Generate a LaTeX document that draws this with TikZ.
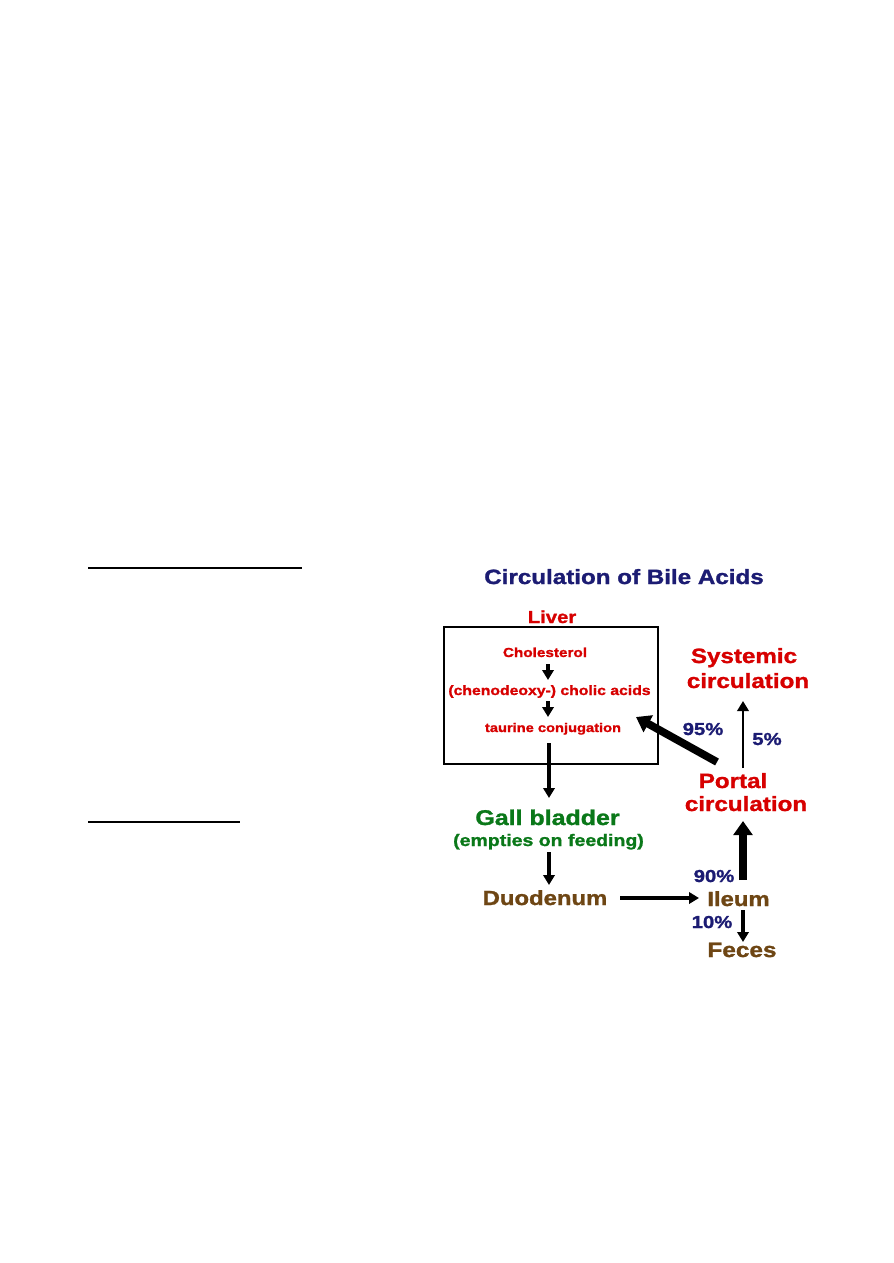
\documentclass[tikz,border=0pt]{standalone}
\usepackage{fontspec}
\setmainfont{Liberation Sans}[FakeStretch=1.17,BoldFeatures={FakeBold=1.3}]
\usetikzlibrary{arrows.meta}
\definecolor{navyc}{RGB}{28,28,115}
\definecolor{redc}{RGB}{215,0,0}
\definecolor{greenc}{RGB}{10,120,25}
\definecolor{brownc}{RGB}{110,70,20}
\begin{document}
\begin{tikzpicture}[x=0.75pt,y=-0.75pt,
  lbl/.style={inner sep=0pt, anchor=base},
  fs/.style={font=\fontsize{#1}{#1}\selectfont\bfseries},
  thinarr/.style={line width=2.4pt, -{Triangle[length=7.5pt,width=8.5pt]}},
  thickarr/.style={line width=5.8pt, -{Triangle[length=10.5pt,width=14pt]}}]
\useasboundingbox[fill=white] (0,0) rectangle (893,1263);

% left underlines
\coordinate (u1a) at (88,568); \coordinate (u1b) at (302,568);
\coordinate (u2a) at (88,822); \coordinate (u2b) at (240,822);
\draw[line width=1.6pt] (u1a) -- (u1b);
\draw[line width=1.6pt] (u2a) -- (u2b);

% title
\node (title) [lbl, fs=15.5pt, text=navyc] at (624,584) {Circulation of Bile Acids};

% liver box
\node (liver) [lbl, fs=13pt, text=redc] at (552,623) {Liver};
\node (liverbox) [draw, line width=1.1pt, minimum width=160.5pt, minimum height=102.75pt, inner sep=0pt] at (551,695.5) {};
\node (chol) [lbl, fs=9.8pt, text=redc] at (545,657) {Cholesterol};
\node (acids) [lbl, fs=10.1pt, text=redc] at (549.5,695) {(chenodeoxy-) cholic acids};
\node (taur) [lbl, fs=9.4pt, text=redc] at (553,732) {taurine conjugation};

% other stations
\node (gall) [lbl, fs=16pt, text=greenc] at (547.5,825) {Gall bladder};
\node (empt) [lbl, fs=12.5pt, text=greenc] at (548.5,846) {(empties on feeding)};
\node (duo) [lbl, fs=15.3pt, text=brownc] at (545,905) {Duodenum};
\node (ileum) [lbl, fs=15.3pt, text=brownc] at (738.5,906) {Ileum};
\node (feces) [lbl, fs=15.6pt, text=brownc] at (742,957) {Feces};
\node (portal) [lbl, fs=15.5pt, text=redc] at (733,788) {Portal};
\node (portalc) [lbl, fs=15.5pt, text=redc] at (746,811) {circulation};
\node (sys) [lbl, fs=15.5pt, text=redc] at (744,663) {Systemic};
\node (sysc) [lbl, fs=15.5pt, text=redc] at (748,688) {circulation};

% percentages
\node (p95) [lbl, fs=13pt, text=navyc] at (703,735) {95\%};
\node (p5) [lbl, fs=13pt, text=navyc] at (767,745) {5\%};
\node (p90) [lbl, fs=13pt, text=navyc] at (714,882) {90\%};
\node (p10) [lbl, fs=13pt, text=navyc] at (712,928) {10\%};

% connector ends
\coordinate (cholS) at (548,664); \coordinate (acidsN) at (548,680);
\coordinate (acidsS) at (548,701); \coordinate (taurN) at (548,717);
\coordinate (taurS) at (549,743); \coordinate (gallN) at (549,798);
\coordinate (emptS) at (549,852); \coordinate (duoN) at (549,885);
\coordinate (duoE) at (620,898); \coordinate (ileumW) at (699,898);
\coordinate (ileumN) at (743,880); \coordinate (portalS) at (743,821);
\coordinate (ileumS) at (743,910); \coordinate (fecesN) at (743,942);
\coordinate (portalN) at (743,768); \coordinate (sysS) at (743,701);
\coordinate (portalW) at (717,762); \coordinate (liverE) at (636,717);

\draw[thinarr] (cholS) -- (acidsN);
\draw[thinarr] (acidsS) -- (taurN);
\draw[thinarr] (taurS) -- (gallN);
\draw[thinarr] (emptS) -- (duoN);
\draw[thinarr] (duoE) -- (ileumW);
\draw[thickarr] (ileumN) -- (portalS);
\draw[thinarr] (ileumS) -- (fecesN);
\draw[thinarr, line width=1.9pt] (portalN) -- (sysS);
\draw[thickarr] (portalW) -- (liverE);
\end{tikzpicture}
\end{document}
